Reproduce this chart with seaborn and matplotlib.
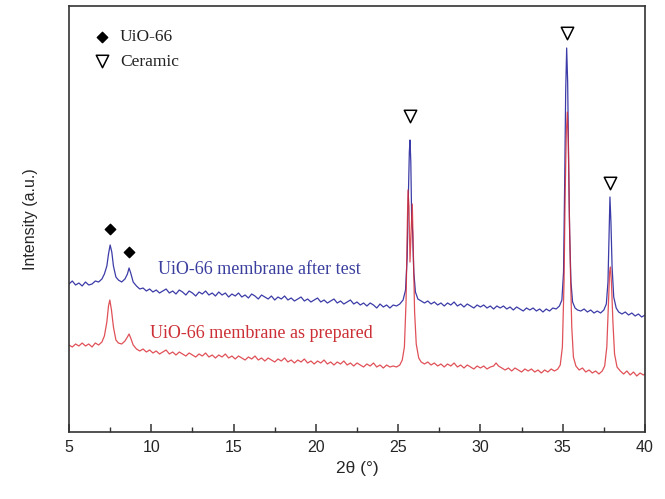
import numpy as np
import pandas as pd
import matplotlib
matplotlib.use("Agg")
import matplotlib.pyplot as plt
import seaborn as sns

# ---------------- data ----------------
after_x = [5.0, 5.2, 5.4, 5.6, 5.8, 6.0, 6.2, 6.4, 6.6, 6.8, 7.0, 7.15, 7.3, 7.4, 7.5, 7.6, 7.7, 7.85, 8.0, 8.2,
           8.4, 8.55, 8.65, 8.75, 8.9, 9.1, 9.3, 9.5, 9.7, 9.9, 10.1, 10.3, 10.5, 10.7, 10.9, 11.1, 11.3, 11.5, 11.7, 11.9,
           12.1, 12.3, 12.5, 12.7, 12.9, 13.1, 13.3, 13.5, 13.7, 13.9, 14.1, 14.3, 14.5, 14.7, 14.9, 15.1, 15.3, 15.5, 15.7, 15.9,
           16.1, 16.3, 16.5, 16.7, 16.9, 17.1, 17.3, 17.5, 17.7, 17.9, 18.1, 18.3, 18.5, 18.7, 18.9, 19.1, 19.3, 19.5, 19.7, 19.9,
           20.1, 20.3, 20.5, 20.7, 20.9, 21.1, 21.3, 21.5, 21.7, 21.9, 22.1, 22.3, 22.5, 22.7, 22.9, 23.1, 23.3, 23.5, 23.7, 23.9,
           24.1, 24.3, 24.5, 24.7, 24.9, 25.1, 25.3, 25.45, 25.55, 25.62, 25.68, 25.72, 25.77, 25.82, 25.88, 25.95, 26.05, 26.2, 26.4, 26.6,
           26.8, 27.0, 27.2, 27.4, 27.6, 27.8, 28.0, 28.2, 28.4, 28.6, 28.8, 29.0, 29.2, 29.4, 29.6, 29.8, 30.0, 30.2, 30.4, 30.6,
           30.8, 31.0, 31.2, 31.4, 31.6, 31.8, 32.0, 32.2, 32.4, 32.6, 32.8, 33.0, 33.2, 33.4, 33.6, 33.8, 34.0, 34.2, 34.4, 34.6,
           34.8, 34.95, 35.05, 35.12, 35.18, 35.24, 35.3, 35.36, 35.42, 35.5, 35.6, 35.75, 35.9, 36.1, 36.3, 36.5, 36.7, 36.9, 37.1, 37.3,
           37.5, 37.65, 37.75, 37.82, 37.87, 37.93, 38.0, 38.1, 38.25, 38.4, 38.6, 38.8, 39.0, 39.2, 39.4, 39.6, 39.8, 40.0]
after_y = [148, 151, 147, 149, 146, 150, 147, 148, 151, 150, 153, 158, 166, 178, 187, 180, 166, 155, 152, 150,
           153, 158, 164, 159, 150, 146, 143, 144, 141, 143, 140, 142, 139, 141, 143, 139, 141, 138, 142, 140,
           137, 141, 139, 136, 140, 138, 141, 137, 139, 136, 140, 137, 139, 135, 138, 136, 139, 135, 137, 134,
           138, 136, 133, 137, 135, 133, 136, 132, 135, 133, 136, 132, 134, 131, 133, 135, 131, 133, 130, 132,
           134, 130, 132, 129, 131, 133, 129, 131, 128, 130, 132, 128, 130, 127, 129, 126, 129, 127, 124, 128,
           125, 127, 124, 127, 126, 128, 132, 142, 175, 235, 280, 292, 270, 215, 200, 160, 140, 133, 131, 129,
           131, 128, 130, 127, 129, 126, 129, 127, 130, 126, 128, 125, 128, 126, 124, 127, 125, 127, 124, 126,
           123, 126, 124, 126, 123, 125, 122, 125, 123, 121, 124, 122, 124, 121, 123, 120, 123, 121, 124, 123,
           126, 132, 160, 250, 340, 384, 350, 270, 200, 150, 130, 124, 122, 121, 123, 120, 122, 119, 121, 119,
           122, 128, 150, 200, 235, 210, 165, 135, 124, 120, 118, 120, 117, 119, 116, 118, 115, 117]

prep_x = [5.0, 5.2, 5.4, 5.6, 5.8, 6.0, 6.2, 6.4, 6.6, 6.8, 7.0, 7.15, 7.3, 7.4, 7.48, 7.58, 7.7, 7.85, 8.0, 8.2,
          8.4, 8.55, 8.65, 8.75, 8.9, 9.1, 9.3, 9.5, 9.7, 9.9, 10.1, 10.3, 10.5, 10.7, 10.9, 11.1, 11.3, 11.5, 11.7, 11.9,
          12.1, 12.3, 12.5, 12.7, 12.9, 13.1, 13.3, 13.5, 13.7, 13.9, 14.1, 14.3, 14.5, 14.7, 14.9, 15.1, 15.3, 15.5, 15.7, 15.9,
          16.1, 16.3, 16.5, 16.7, 16.9, 17.1, 17.3, 17.5, 17.7, 17.9, 18.1, 18.3, 18.5, 18.7, 18.9, 19.1, 19.3, 19.5, 19.7, 19.9,
          20.1, 20.3, 20.5, 20.7, 20.9, 21.1, 21.3, 21.5, 21.7, 21.9, 22.1, 22.3, 22.5, 22.7, 22.9, 23.1, 23.3, 23.5, 23.7, 23.9,
          24.1, 24.3, 24.5, 24.7, 24.9, 25.1, 25.25, 25.38, 25.48, 25.55, 25.6, 25.66, 25.72, 25.8, 25.86, 25.92, 26.0, 26.1, 26.25, 26.4,
          26.6, 26.8, 27.0, 27.2, 27.4, 27.6, 27.8, 28.0, 28.2, 28.4, 28.6, 28.8, 29.0, 29.2, 29.4, 29.6, 29.8, 30.0, 30.2, 30.4,
          30.6, 30.8, 30.95, 31.1, 31.3, 31.5, 31.7, 31.9, 32.1, 32.3, 32.5, 32.7, 32.9, 33.1, 33.3, 33.5, 33.7, 33.9, 34.1, 34.3,
          34.5, 34.7, 34.85, 34.98, 35.08, 35.15, 35.22, 35.28, 35.34, 35.4, 35.47, 35.55, 35.65, 35.8, 36.0, 36.2, 36.4, 36.6, 36.8, 37.0,
          37.2, 37.4, 37.55, 37.68, 37.78, 37.85, 37.9, 37.96, 38.05, 38.15, 38.3, 38.5, 38.7, 38.9, 39.1, 39.3, 39.5, 39.7, 39.9, 40.0]
prep_y = [87, 85, 88, 86, 89, 86, 88, 85, 89, 87, 90, 96, 110, 126, 132, 122, 105, 92, 89, 88,
          91, 95, 98, 94, 87, 83, 81, 83, 80, 82, 79, 81, 78, 80, 82, 78, 80, 77, 80, 78,
          76, 79, 77, 75, 78, 76, 79, 75, 77, 74, 77, 75, 78, 74, 76, 73, 76, 74, 72, 75,
          73, 76, 72, 74, 71, 74, 72, 70, 73, 71, 74, 70, 72, 69, 72, 70, 73, 69, 71, 68,
          71, 69, 72, 68, 70, 67, 70, 68, 71, 67, 69, 66, 69, 67, 65, 68, 66, 69, 65, 67,
          64, 67, 65, 66, 65, 67, 72, 85, 130, 200, 242, 225, 170, 205, 228, 180, 120, 88, 74, 70,
          68, 70, 67, 69, 66, 68, 65, 68, 66, 69, 65, 67, 64, 67, 65, 63, 66, 64, 66, 63,
          65, 66, 69, 66, 64, 62, 64, 61, 64, 62, 60, 63, 61, 63, 60, 62, 59, 62, 60, 63,
          61, 63, 67, 85, 150, 240, 300, 320, 290, 220, 160, 105, 75, 66, 62, 64, 60, 62, 59, 61,
          58, 61, 66, 85, 130, 160, 165, 150, 110, 78, 65, 61, 58, 61, 57, 60, 56, 59, 57, 58]

uio_peaks_x = [7.5, 8.65]
uio_peaks_y = [203, 180]
ceramic_peaks_x = [25.72, 35.24, 37.87]
ceramic_peaks_y = [316, 399, 249]

label_after = "UiO-66 membrane after test"
label_prep = "UiO-66 membrane as prepared"
legend_labels = ["UiO-66", "Ceramic"]
xticks = [5, 10, 15, 20, 25, 30, 35, 40]

# ---------------- plot ----------------
sns.set_theme(style="white")
plt.rcParams["font.family"] = ["Liberation Sans", "DejaVu Sans"]

df = pd.concat([
    pd.DataFrame({"2theta": after_x, "I": after_y, "s": "after"}),
    pd.DataFrame({"2theta": prep_x, "I": prep_y, "s": "prep"}),
])

fig = plt.figure(figsize=(6.65, 4.99), dpi=100)
ax = fig.add_axes([69 / 665, 1 - 432 / 499, (645 - 69) / 665, (432 - 6) / 499])

blue = "#3c3ca8"
red = "#d8262e"
sns.lineplot(data=df[df.s == "after"], x="2theta", y="I", color=blue, lw=0.9,
             estimator=None, sort=False, ax=ax)
sns.lineplot(data=df[df.s == "prep"], x="2theta", y="I", color=red, lw=0.9, alpha=0.8,
             estimator=None, sort=False, ax=ax)

serif = ["Liberation Serif", "DejaVu Serif"]
ax.scatter(uio_peaks_x, uio_peaks_y, marker="D", s=28, color="black", zorder=5)
ax.scatter(ceramic_peaks_x, ceramic_peaks_y, marker="v", s=80, facecolor="white",
           edgecolor="black", linewidth=1.1, zorder=5)

# legend-like key
ax.scatter([7.0], [395], marker="D", s=28, color="black")
ax.text(8.1, 395, legend_labels[0], family=serif, fontsize=12.5, va="center", ha="left", color="#222222")
ax.scatter([7.0], [371], marker="v", s=80, facecolor="white", edgecolor="black", linewidth=1.1)
ax.text(8.1, 370, legend_labels[1], family=serif, fontsize=12.5, va="center", ha="left", color="#222222")

ax.text(10.4, 162, label_after, family=serif, fontsize=13, color="#3a3f9e", va="center", ha="left")
ax.text(9.9, 99, label_prep, family=serif, fontsize=13, color="#cc2f35", va="center", ha="left")

ax.set_xlim(5, 40)
ax.set_ylim(0, 426)
ax.set_xticks(xticks)
ax.set_xticks(np.arange(7.5, 40, 5), minor=True)
ax.set_yticks([])
ax.tick_params(axis="x", which="major", direction="in", length=6, width=1.1, color="#333333",
               labelsize=11.5, pad=6, bottom=True, top=False)
ax.tick_params(axis="x", which="minor", direction="in", length=3.5, width=1.0, color="#333333",
               bottom=True, top=False)
for sp in ax.spines.values():
    sp.set_color("#333333")
    sp.set_linewidth(1.2)
ax.set_xlabel("2θ (°)", fontsize=12.5, labelpad=4)
ax.set_ylabel("Intensity (a.u.)", fontsize=11.5, labelpad=22)

fig.savefig("out.png", dpi=100)
